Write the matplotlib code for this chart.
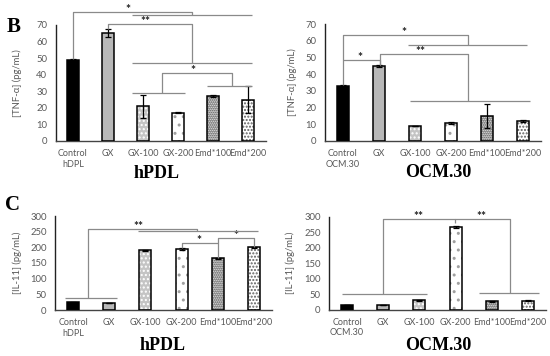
import matplotlib
matplotlib.use("Agg")
import matplotlib.pyplot as plt
import numpy as np

plt.rcParams['font.family'] = ['Lato', 'DejaVu Sans']
plt.rcParams['hatch.linewidth'] = 1.0

categories_hpdl = ["Control\nhDPL", "GX", "GX-100", "GX-200", "Emd*100", "Emd*200"]
categories_ocm = ["Control\nOCM.30", "GX", "GX-100", "GX-200", "Emd*100", "Emd*200"]

tnf_hpdl = [49, 65, 21, 17, 27, 25]
tnf_hpdl_err = [0.5, 2.5, 7, 0.2, 0.7, 8]
tnf_ocm = [33, 45, 9, 11, 15, 12]
tnf_ocm_err = [0.3, 0.5, 0.2, 0.6, 7, 0.5]
il11_hpdl = [24, 22, 190, 195, 165, 200]
il11_hpdl_err = [2, 1, 1, 3, 1, 1]
il11_ocm = [15, 14, 30, 266, 26, 28]
il11_ocm_err = [1, 1, 1, 4, 1, 2]

face = ["#000000", "#b8b8b8", "#c4c4c4", "#ffffff", "#ffffff", "#ffffff"]
hatches = [None, None, "....", "..", "........", "....."]
hatch_col = ["#000000", "#b8b8b8", "#ffffff", "#a0a0a0", "#303030", "#606060"]

W, H = 550, 356
fig = plt.figure(figsize=(5.5, 3.56), dpi=100)

BR = "#8a8a8a"
TXT = "#595959"


def rect(l, b, r, t):
    return [l / W, 1 - b / H, (r - l) / W, (b - t) / H]


def panel(r, cats, vals, errs, ymax, ystep, ylabel, lab_x):
    ax = fig.add_axes(r)
    x = np.arange(len(cats))
    for i in range(len(cats)):
        ax.bar(x[i], vals[i], width=0.33, color=face[i], hatch=hatches[i],
               edgecolor=hatch_col[i], linewidth=0, zorder=2)
    ax.bar(x, vals, width=0.33, fill=False, edgecolor="black", linewidth=1.1, zorder=3)
    ax.errorbar(x, vals, yerr=errs, fmt="none", ecolor="black", elinewidth=0.9,
                capsize=2.5, capthick=0.9, zorder=4)
    ax.set_xlim(-0.5, 5.5)
    ax.set_ylim(0, ymax)
    ax.set_yticks(np.arange(0, ymax + 1, ystep))
    ax.set_xticks(x)
    ax.set_xticklabels(cats)
    ax.tick_params(axis="x", length=0, labelsize=6.5, labelcolor=TXT, pad=6)
    ax.tick_params(axis="y", length=0, labelsize=6.8, labelcolor=TXT, pad=6)
    for s in ["top", "right"]:
        ax.spines[s].set_visible(False)
    ax.spines["left"].set_color("#222222")
    ax.spines["bottom"].set_color("#444444")
    ax.spines["left"].set_linewidth(1.0)
    ax.spines["bottom"].set_linewidth(1.0)
    ax.set_ylabel(ylabel, fontsize=6.8, color=TXT)
    ax.yaxis.set_label_coords(lab_x, 0.5)
    return ax


def seg(ax, xs, ys):
    ax.plot(xs, ys, color=BR, lw=0.9, clip_on=False, zorder=5, solid_capstyle="butt")


def star(ax, x, y, s):
    ax.annotate(s, (x, y), xytext=(0, -0.8), textcoords="offset points", ha="center",
                va="baseline", fontsize=8.5, fontweight="bold", color="#222222",
                annotation_clip=False)


# ---- B left
a1 = panel(rect(55.5, 141, 265.5, 25), categories_hpdl, tnf_hpdl, tnf_hpdl_err,
           70, 10, "[TNF-α] (pg/mL)", -0.16)
seg(a1, [0, 0, 3.39, 3.39], [49.5, 78, 78, 76])
seg(a1, [1.68, 5.1], [76, 76])
star(a1, 1.57, 78, "*")
seg(a1, [1, 1, 3.39, 3.39], [67.5, 70.4, 70.4, 46.9])
seg(a1, [1.68, 5.1], [46.9, 46.9])
star(a1, 2.06, 70.4, "**")
seg(a1, [2.55, 2.55, 4.53, 4.53], [28.8, 40.8, 40.8, 33.2])
seg(a1, [1.68, 3.2], [28.8, 28.8])
seg(a1, [3.82, 5.1], [33.2, 33.2])
star(a1, 3.43, 40.8, "*")

# ---- B right
a2 = panel(rect(325, 141, 541, 24), categories_ocm, tnf_ocm, tnf_ocm_err,
           70, 10, "[TNF-α] (pg/mL)", -0.13)
seg(a2, [0, 0, 3.48, 3.48], [33.3, 63.4, 63.4, 57.4])
seg(a2, [1.8, 5.12], [57.4, 57.4])
star(a2, 1.70, 63.4, "*")
seg(a2, [0, 1.03, 1.03], [48.5, 48.5, 45.5])
star(a2, 0.47, 48.5, "*")
seg(a2, [1.03, 1.03, 3.48, 3.48], [45.5, 51.9, 51.9, 24.1])
seg(a2, [1.86, 5.2], [24.1, 24.1])
star(a2, 2.16, 51.9, "**")

# ---- C left
a3 = panel(rect(55, 310, 272, 216), categories_hpdl, il11_hpdl, il11_hpdl_err,
           300, 50, "[IL-11] (pg/mL)", -0.152)
seg(a3, [0.42, 0.42, 3.43, 3.43], [37, 257.5, 257.5, 252])
seg(a3, [-0.22, 1.22], [37, 37])
seg(a3, [1.8, 5.12], [252, 252])
star(a3, 1.8, 257.5, "**")
seg(a3, [3.0, 3.0, 4.01, 4.01], [199, 213, 213, 166])
star(a3, 3.49, 213, "*")
seg(a3, [4.01, 4.01, 5.0, 5.0], [213, 231, 231, 201])
star(a3, 4.49, 231, "*")

# ---- C right
a4 = panel(rect(329, 309.5, 546, 216.7), categories_ocm, il11_ocm, il11_ocm_err,
           300, 50, "[IL-11] (pg/mL)", -0.157)
seg(a4, [1.0, 1.0, 2.99, 2.99], [49, 292.6, 292.6, 278.7])
seg(a4, [-0.15, 2.2], [49, 49])
star(a4, 1.98, 292.6, "**")
seg(a4, [2.99, 4.5, 4.5], [292.6, 292.6, 54.3])
seg(a4, [3.65, 5.3], [54.3, 54.3])
star(a4, 3.71, 292.6, "**")

serif = dict(family=["Liberation Serif", "DejaVu Serif"], fontweight="bold")
fig.text(157 / W, 1 - 174 / H, "hPDL", ha="center", va="center", fontsize=13, **serif)
fig.text(438 / W, 1 - 172 / H, "OCM.30", ha="center", va="center", fontsize=13, **serif)
fig.text(163 / W, 1 - 345 / H, "hPDL", ha="center", va="center", fontsize=13, **serif)
fig.text(438 / W, 1 - 345 / H, "OCM.30", ha="center", va="center", fontsize=13, **serif)
fig.text(14 / W, 1 - 27 / H, "B", ha="center", va="center", fontsize=15, **serif)
fig.text(12 / W, 1 - 205 / H, "C", ha="center", va="center", fontsize=15, **serif)

fig.savefig("out.png", dpi=100)
